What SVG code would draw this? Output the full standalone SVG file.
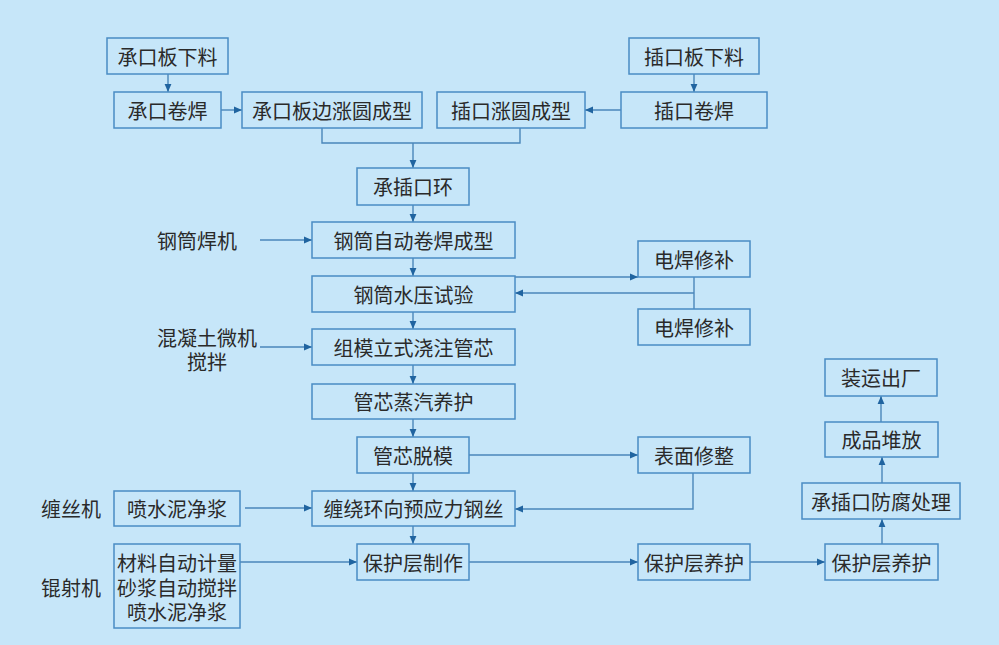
<svg xmlns="http://www.w3.org/2000/svg" width="999" height="645" viewBox="0 0 999 645">
<defs>
<marker id="ah" markerUnits="userSpaceOnUse" markerWidth="8" markerHeight="8" viewBox="0 0 8 8" refX="8" refY="4" orient="auto">
<path d="M0,0.6 L8,4 L0,7.4 Z" fill="#2064A0"/>
</marker>
<style>
.b{fill:none;stroke:#4A8CC4;stroke-width:1.5}
.t{font-family:"Noto Sans CJK SC","Noto Sans",sans-serif;font-size:20px;fill:#2a2a2a;text-anchor:middle;dominant-baseline:central}
.c{fill:none;stroke:#4A86BA;stroke-width:1.4}
.a{marker-end:url(#ah)}
</style>
</defs>
<rect width="999" height="645" fill="#C6E6F9"/>
<g id="connectors">
<line class="c a" x1="168" y1="74" x2="168" y2="92"/>
<line class="c a" x1="221" y1="110" x2="242" y2="110"/>
<polyline class="c" points="322,128 322,143 520,143 520,128"/>
<line class="c a" x1="413" y1="143" x2="413" y2="168"/>
<line class="c a" x1="621" y1="110" x2="585" y2="110"/>
<line class="c a" x1="694" y1="74" x2="694" y2="92"/>
<line class="c a" x1="413" y1="205" x2="413" y2="222"/>
<line class="c a" x1="413" y1="258" x2="413" y2="276"/>
<line class="c a" x1="413" y1="312" x2="413" y2="329"/>
<line class="c a" x1="413" y1="365" x2="413" y2="384"/>
<line class="c a" x1="413" y1="419" x2="413" y2="437"/>
<line class="c a" x1="413" y1="473" x2="413" y2="491"/>
<line class="c a" x1="413" y1="526" x2="413" y2="544"/>
<line class="c a" x1="260" y1="240" x2="312" y2="240"/>
<line class="c a" x1="515" y1="277" x2="638" y2="277"/>
<line class="c" x1="694" y1="277" x2="694" y2="309"/>
<line class="c a" x1="694" y1="293" x2="515" y2="293"/>
<line class="c a" x1="260" y1="347" x2="312" y2="347"/>
<line class="c a" x1="469" y1="455" x2="638" y2="455"/>
<polyline class="c a" points="693,473 693,509 515,509"/>
<line class="c a" x1="245" y1="508" x2="312" y2="508"/>
<line class="c a" x1="240" y1="562" x2="357" y2="562"/>
<line class="c a" x1="469" y1="562" x2="638" y2="562"/>
<line class="c a" x1="750" y1="562" x2="825" y2="562"/>
<line class="c a" x1="882" y1="544" x2="882" y2="519"/>
<line class="c a" x1="882" y1="483" x2="882" y2="457"/>
<line class="c a" x1="881" y1="422" x2="881" y2="396"/>
</g>
<g id="n1"><rect class="b" x="107" y="38" width="121" height="36"/><text class="t" x="167.5" y="56">承口板下料</text></g>
<g id="n2"><rect class="b" x="114" y="92" width="107" height="36"/><text class="t" x="167.5" y="110">承口卷焊</text></g>
<g id="n3"><rect class="b" x="242" y="92" width="180" height="36"/><text class="t" x="332" y="110">承口板边涨圆成型</text></g>
<g id="n4"><rect class="b" x="437" y="92" width="148" height="36"/><text class="t" x="511" y="110">插口涨圆成型</text></g>
<g id="n5"><rect class="b" x="629" y="38" width="130" height="36"/><text class="t" x="694" y="56">插口板下料</text></g>
<g id="n6"><rect class="b" x="621" y="92" width="146" height="36"/><text class="t" x="694" y="110">插口卷焊</text></g>
<g id="n7"><rect class="b" x="357" y="168" width="112" height="37"/><text class="t" x="413" y="186.5">承插口环</text></g>
<g id="n8"><rect class="b" x="312" y="222" width="203" height="36"/><text class="t" x="413.5" y="240">钢筒自动卷焊成型</text></g>
<g id="n9"><rect class="b" x="312" y="276" width="203" height="36"/><text class="t" x="413.5" y="294">钢筒水压试验</text></g>
<g id="n10"><rect class="b" x="638" y="241" width="112" height="36"/><text class="t" x="694" y="259">电焊修补</text></g>
<g id="n11"><rect class="b" x="638" y="309" width="112" height="36"/><text class="t" x="694" y="327">电焊修补</text></g>
<g id="n12"><rect class="b" x="312" y="329" width="203" height="36"/><text class="t" x="413.5" y="347">组模立式浇注管芯</text></g>
<g id="n13"><rect class="b" x="312" y="384" width="203" height="35"/><text class="t" x="413.5" y="401.5">管芯蒸汽养护</text></g>
<g id="n14"><rect class="b" x="357" y="437" width="112" height="36"/><text class="t" x="413" y="455">管芯脱模</text></g>
<g id="n15"><rect class="b" x="638" y="437" width="112" height="36"/><text class="t" x="694" y="455">表面修整</text></g>
<g id="n16"><rect class="b" x="312" y="491" width="203" height="35"/><text class="t" x="413.5" y="508.5">缠绕环向预应力钢丝</text></g>
<g id="n17"><rect class="b" x="114" y="491" width="126" height="35"/><text class="t" x="177" y="508.5">喷水泥净浆</text></g>
<g id="n18"><rect class="b" x="114" y="544" width="126" height="84"/><text class="t"><tspan x="177" y="562">材料自动计量</tspan><tspan x="177" y="587">砂浆自动搅拌</tspan><tspan x="177" y="611">喷水泥净浆</tspan></text></g>
<g id="n19"><rect class="b" x="357" y="544" width="112" height="36"/><text class="t" x="413" y="562">保护层制作</text></g>
<g id="n20"><rect class="b" x="638" y="544" width="112" height="36"/><text class="t" x="694" y="562">保护层养护</text></g>
<g id="n21"><rect class="b" x="825" y="544" width="113" height="36"/><text class="t" x="881.5" y="562">保护层养护</text></g>
<g id="n22"><rect class="b" x="802" y="483" width="158" height="36"/><text class="t" x="881" y="501">承插口防腐处理</text></g>
<g id="n23"><rect class="b" x="825" y="422" width="113" height="35"/><text class="t" x="881.5" y="439.5">成品堆放</text></g>
<g id="n24"><rect class="b" x="825" y="359" width="112" height="37"/><text class="t" x="881" y="377.5">装运出厂</text></g>
<g id="l1"><text class="t" x="197" y="240">钢筒焊机</text></g>
<g id="l2"><text class="t"><tspan x="207" y="337">混凝土微机</tspan><tspan x="207" y="361">搅拌</tspan></text></g>
<g id="l3"><text class="t" x="71" y="508">缠丝机</text></g>
<g id="l4"><text class="t" x="71" y="587">锟射机</text></g>
</svg>
